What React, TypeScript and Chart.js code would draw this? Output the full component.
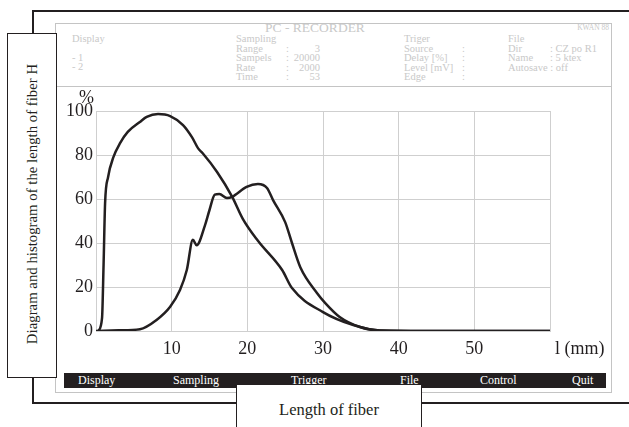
import React, { useEffect, useRef } from "react";
import { Chart, registerables } from "chart.js";

Chart.register(...registerables);

// Diagram curve, x = length (mm), y = %
const diagramLength = [0.3, 0.8, 1.0, 1.2, 1.6, 2.3, 3.2, 4.2, 5.8, 6.7, 8.2, 9.8, 11.5, 12.7, 13.5, 14.1, 16, 18, 19.4, 21.4, 24.6, 25.9, 30, 34, 37.5, 45, 60];
const diagramValues = [0, 6, 30, 58, 70, 79, 85.5, 90.5, 95, 97.3, 98.6, 97.7, 93.6, 88, 83, 80.8, 72.3, 61, 51, 41, 27.7, 19.5, 8.6, 2.7, 0.2, 0, 0];

// Histogram curve
const histLength = [0, 3, 5.8, 8, 9.8, 11.1, 12, 12.8, 13.3, 14.4, 15, 15.7, 16.3, 17.3, 18, 19.9, 21.4, 22.6, 23.4, 25, 25.9, 27, 29.2, 30.3, 32.2, 34.9, 37.5, 45, 60];
const histValues = [0, 0.3, 0.8, 5, 11, 18.6, 27.7, 41.5, 39, 48, 55, 62, 62.3, 60.5, 61, 65.5, 66.8, 65, 59.5, 49.5, 40, 29, 17.3, 12.7, 6.4, 1.8, 0.2, 0, 0];

const yTicks = [0, 20, 40, 60, 80, 100];
const xTicks = [10, 20, 30, 40, 50];

const serif = "'Liberation Serif', 'Times New Roman', serif";

function pts(xs: number[], ys: number[]) {
  return xs.map((x, i) => ({ x, y: ys[i] }));
}

const hdr: React.CSSProperties = {
  position: "absolute",
  fontFamily: serif,
  fontSize: 10.5,
  lineHeight: "12px",
  color: "#c9c9c9",
  whiteSpace: "pre",
};

function T(props: { x: number; y: number; t: string; right?: boolean }) {
  const st: React.CSSProperties = { ...hdr, top: props.y - 6 };
  if (props.right) st.right = 629 - props.x;
  else st.left = props.x;
  return <div style={st}>{props.t}</div>;
}

export default function App() {
  const ref = useRef<HTMLCanvasElement | null>(null);

  useEffect(() => {
    if (!ref.current) return;
    const lineStyle = {
      borderColor: "#231f20",
      borderWidth: 2.5,
      pointRadius: 0,
      fill: false,
      cubicInterpolationMode: "monotone" as const,
    };
    const chart = new Chart(ref.current, {
      type: "line",
      data: {
        datasets: [
          { label: "Diagram", data: pts(diagramLength, diagramValues), ...lineStyle },
          { label: "Histogram", data: pts(histLength, histValues), ...lineStyle },
        ],
      },
      options: {
        animation: false,
        responsive: false,
        maintainAspectRatio: false,
        layout: { padding: { top: 24, right: 60, left: 0, bottom: 0 } },
        plugins: { legend: { display: false }, tooltip: { enabled: false } },
        scales: {
          x: {
            type: "linear",
            min: 0,
            max: 60,
            afterBuildTicks: (s: any) => {
              s.ticks = [0, ...xTicks, 60].map((v) => ({ value: v }));
            },
            afterFit: (s: any) => {
              s.height = 42;
            },
            grid: { color: "#cfcfcf", lineWidth: 1, drawTicks: false },
            border: { display: true, color: "#cfcfcf" },
            ticks: {
              padding: 7,
              color: "#231f20",
              font: { family: serif, size: 18 },
              callback: (v: any) => (xTicks.includes(Number(v)) ? String(v) : ""),
              maxRotation: 0,
              autoSkip: false,
            },
          },
          y: {
            min: 0,
            max: 100,
            afterBuildTicks: (s: any) => {
              s.ticks = yTicks.map((v) => ({ value: v }));
            },
            afterFit: (s: any) => {
              s.width = 41;
            },
            grid: { color: "#cfcfcf", lineWidth: 1, drawTicks: false },
            border: { display: true, color: "#cfcfcf" },
            ticks: {
              padding: 3,
              color: "#231f20",
              font: { family: serif, size: 18 },
            },
          },
        },
      },
    });
    return () => chart.destroy();
  }, []);

  return (
    <div style={{ position: "absolute", left: 0, top: 0, width: 629, height: 427, overflow: "hidden", background: "#fff" }}>
      {/* outer black frame */}
      <div style={{ position: "absolute", left: 32, top: 10, width: 620, height: 390, borderTop: "2px solid #231f20", borderLeft: "2px solid #231f20", borderBottom: "2px solid #231f20" }} />
      {/* gray screen frame */}
      <div style={{ position: "absolute", left: 55, top: 23, width: 555, height: 368, border: "1px solid #c4c4c4", background: "#fff" }} />
      <div style={{ position: "absolute", left: 55, top: 86, width: 556, height: 1, background: "#c4c4c4" }} />

      {/* header */}
      <div style={{ ...hdr, left: 215, width: 200, top: 21, fontSize: 13.5, lineHeight: "14px", textAlign: "center" }}>PC - RECORDER</div>
      <div style={{ ...hdr, right: 629 - 609, top: 24, fontSize: 7.5, lineHeight: "8px" }}>KWAN 88</div>

      <T x={72} y={39} t="Display" />
      <T x={72} y={58} t="- 1" />
      <T x={72} y={67} t="- 2" />

      <T x={236} y={39} t="Sampling" />
      <T x={236} y={48.5} t="Range" />
      <T x={236} y={58} t="Sampels" />
      <T x={236} y={67.5} t="Rate" />
      <T x={236} y={77} t="Time" />
      <T x={286} y={48.5} t=":" />
      <T x={286} y={58} t=":" />
      <T x={286} y={67.5} t=":" />
      <T x={286} y={77} t=":" />
      <T x={320} y={48.5} t="3" right />
      <T x={320} y={58} t="20000" right />
      <T x={320} y={67.5} t="2000" right />
      <T x={320} y={77} t="53" right />

      <T x={404} y={39} t="Triger" />
      <T x={404} y={48.5} t="Source" />
      <T x={404} y={58} t="Delay [%]" />
      <T x={404} y={67.5} t="Level [mV]" />
      <T x={404} y={77} t="Edge" />
      <T x={462} y={48.5} t=":" />
      <T x={462} y={58} t=":" />
      <T x={462} y={67.5} t=":" />
      <T x={462} y={77} t=":" />

      <T x={508} y={39} t="File" />
      <T x={508} y={48.5} t="Dir" />
      <T x={508} y={58} t="Name" />
      <T x={508} y={67.5} t="Autosave : off" />
      <T x={550} y={48.5} t=": CZ po R1" />
      <T x={550} y={58} t=": 5 ktex" />

      {/* chart */}
      <canvas ref={ref} width={555} height={286} style={{ position: "absolute", left: 55, top: 87, width: 555, height: 286 }} />
      <div style={{ position: "absolute", left: 79, top: 87, fontFamily: serif, fontSize: 18, lineHeight: "20px", color: "#231f20" }}>%</div>
      <div style={{ position: "absolute", left: 555, top: 337, fontFamily: serif, fontSize: 18, lineHeight: "22px", color: "#231f20" }}>l (mm)</div>

      {/* menu bar */}
      <div style={{ position: "absolute", left: 64, top: 373, width: 542, height: 15, background: "#231f20" }} />
      {[
        ["Display", 78],
        ["Sampling", 173],
        ["Trigger", 291],
        ["File", 400],
        ["Control", 480],
        ["Quit", 572],
      ].map(([t, x]) => (
        <div key={t as string} style={{ position: "absolute", left: x as number, top: 373, fontFamily: serif, fontSize: 12, lineHeight: "15px", color: "#fff" }}>{t}</div>
      ))}

      {/* left label box */}
      <div style={{ position: "absolute", left: 7, top: 33, width: 48, height: 343, border: "1.5px solid #231f20", background: "#fff" }}>
        <div style={{ position: "absolute", left: 24, top: 170, transform: "translate(-50%, -50%) rotate(-90deg)", whiteSpace: "nowrap", fontFamily: serif, fontSize: 14.8, color: "#231f20" }}>
          Diagram and histogram of the length of fiber H
        </div>
      </div>

      {/* bottom label box */}
      <div style={{ position: "absolute", left: 236, top: 384, width: 184, height: 60, border: "1.5px solid #231f20", background: "#fff" }}>
        <div style={{ position: "absolute", left: 0, width: 184, top: 15, textAlign: "center", fontFamily: serif, fontSize: 16.5, lineHeight: "20px", color: "#231f20" }}>Length of fiber</div>
      </div>
    </div>
  );
}
